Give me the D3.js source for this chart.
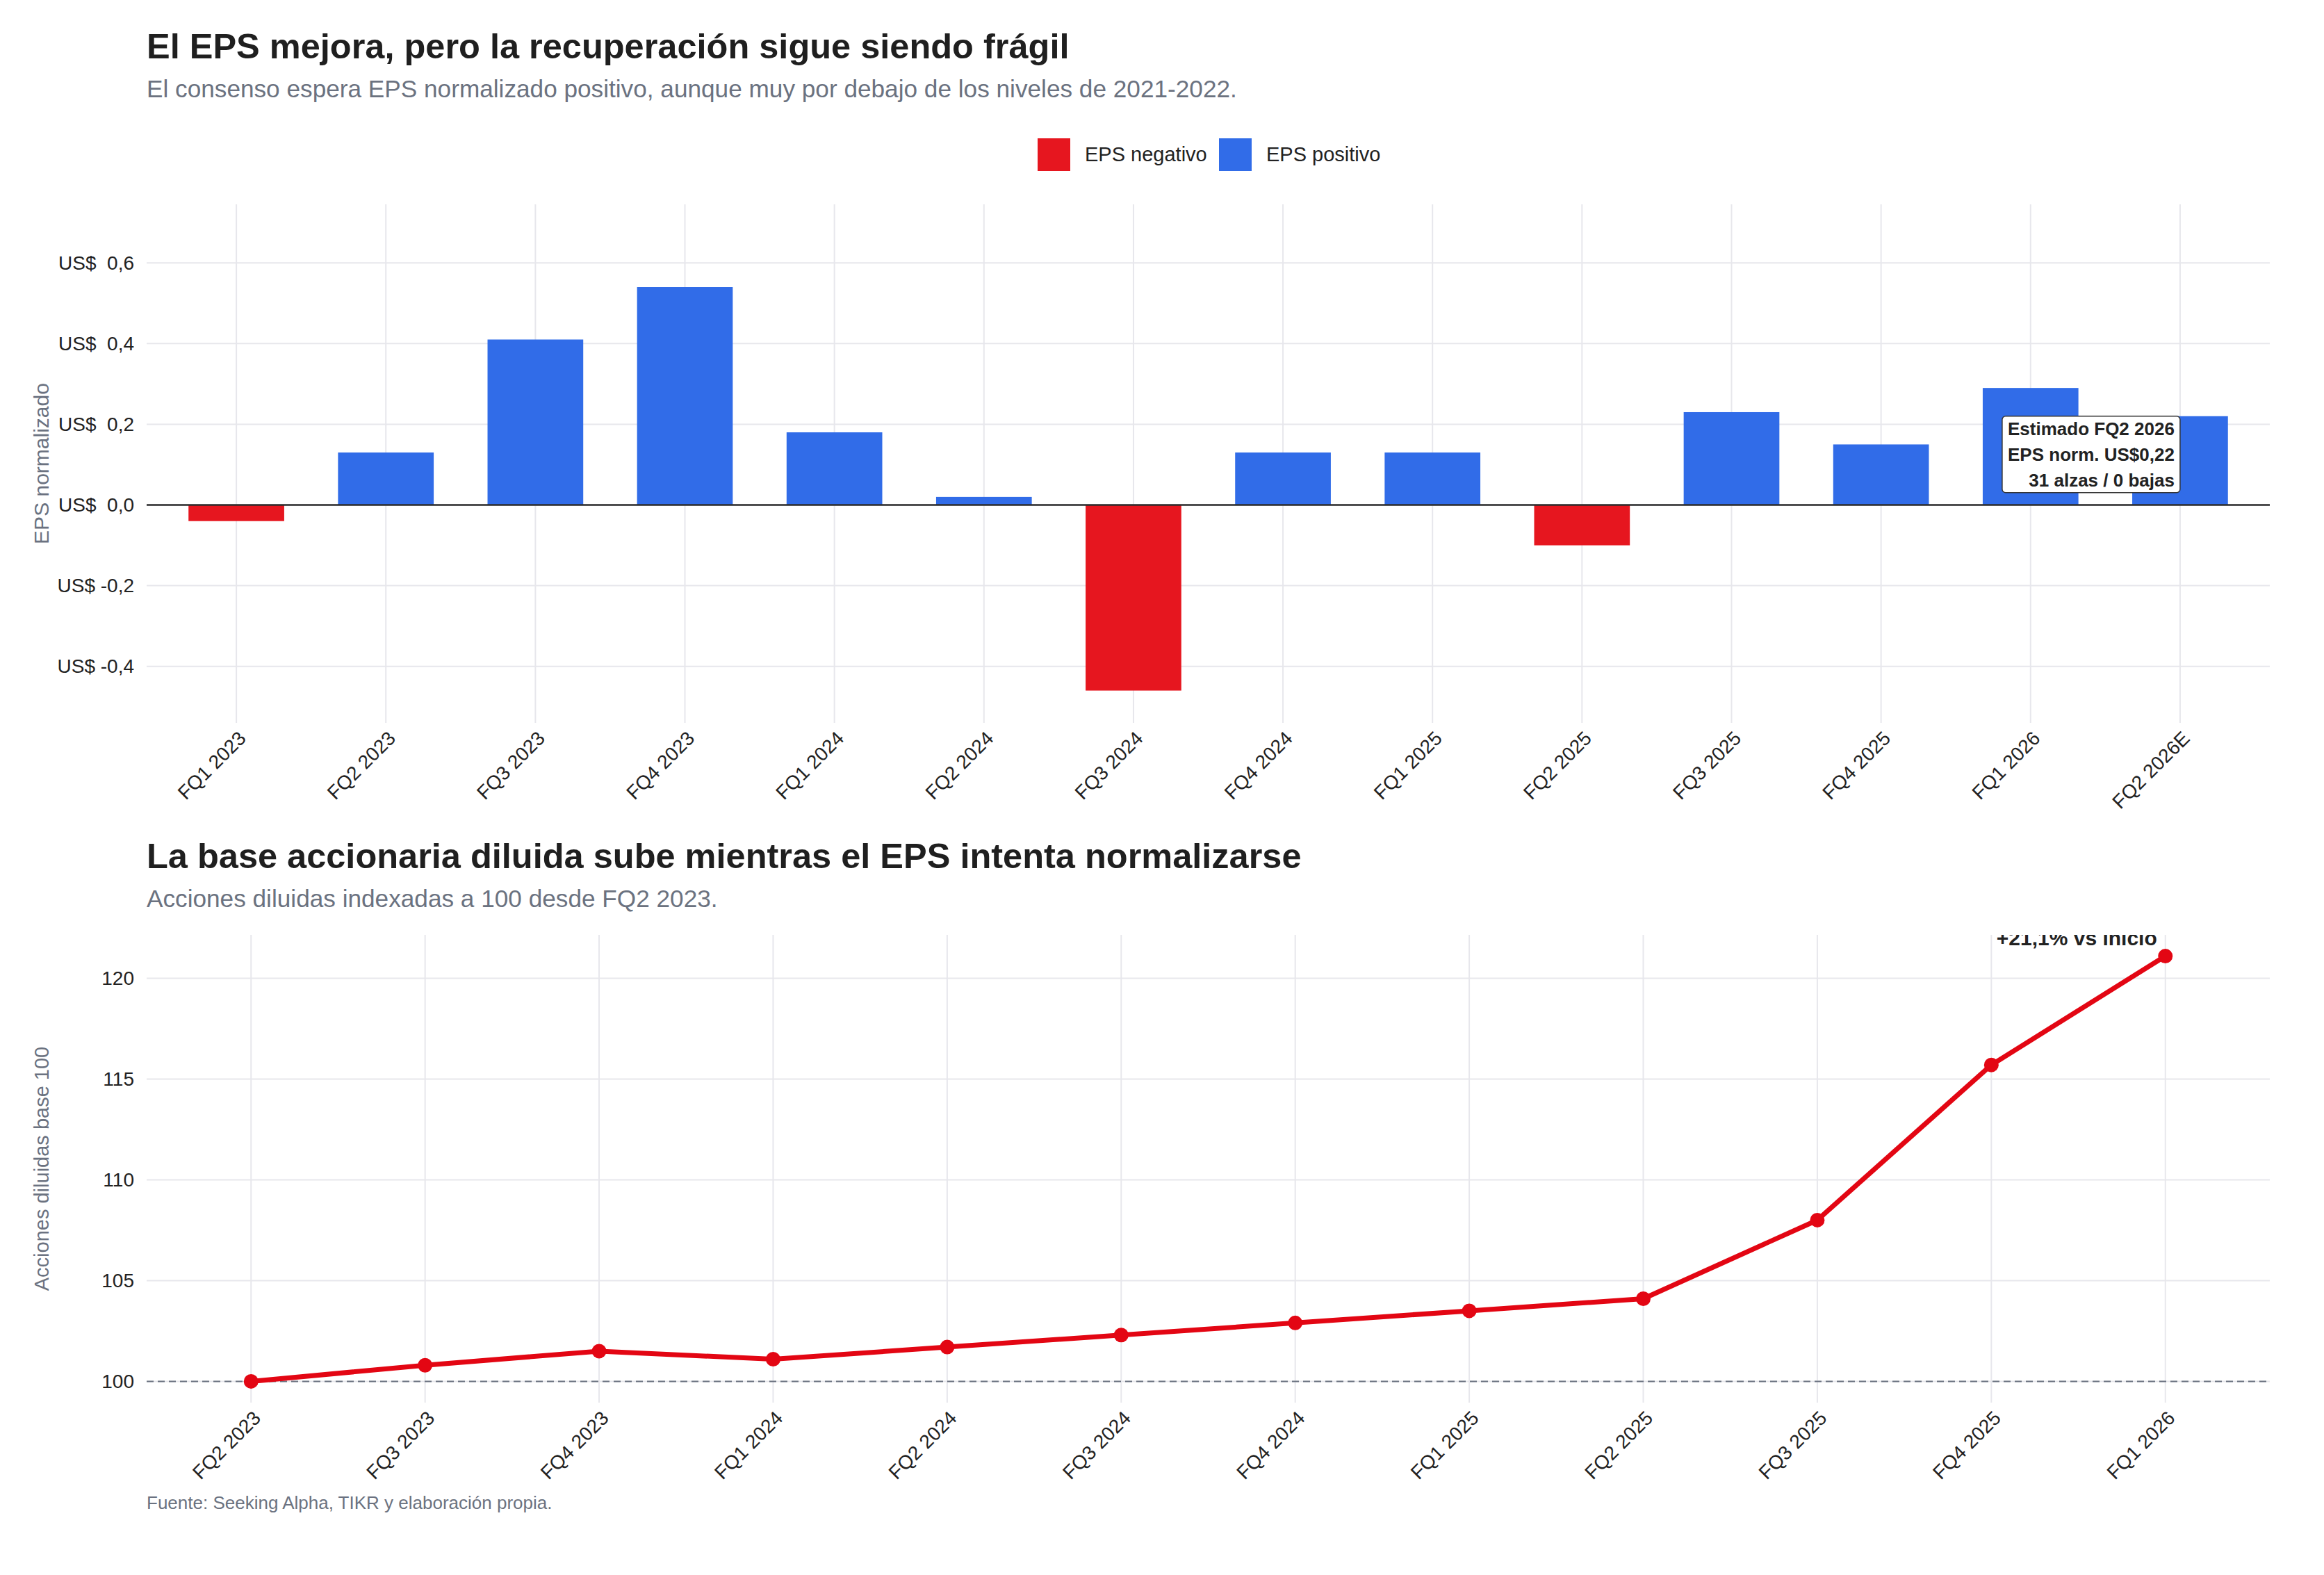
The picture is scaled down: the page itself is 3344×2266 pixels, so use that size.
<!DOCTYPE html>
<html>
<head>
<meta charset="utf-8">
<script src="https://cdn.jsdelivr.net/npm/d3@7"></script>
<style>
  body { margin: 0; background: #fff; }
  text { font-family: "Liberation Sans", Arial, sans-serif; }
</style>
</head>
<body>
<div class="graph"></div>
<script>
// EPS normalizado por trimestre
const epsQuarters = ["FQ1 2023", "FQ2 2023", "FQ3 2023", "FQ4 2023", "FQ1 2024", "FQ2 2024", "FQ3 2024",
  "FQ4 2024", "FQ1 2025", "FQ2 2025", "FQ3 2025", "FQ4 2025", "FQ1 2026", "FQ2 2026E"];
const epsValues = [-0.04, 0.13, 0.41, 0.54, 0.18, 0.02, -0.46, 0.13, 0.13, -0.10, 0.23, 0.15, 0.29, 0.22];
const epsTicks = [-0.4, -0.2, 0, 0.2, 0.4, 0.6];
const legendLabels = ["EPS negativo", "EPS positivo"];
const estimateLines = ["Estimado FQ2 2026", "EPS norm. US$0,22", "31 alzas / 0 bajas"];

// acciones diluidas, base 100
const shareQuarters = ["FQ2 2023", "FQ3 2023", "FQ4 2023", "FQ1 2024", "FQ2 2024", "FQ3 2024",
  "FQ4 2024", "FQ1 2025", "FQ2 2025", "FQ3 2025", "FQ4 2025", "FQ1 2026"];
const shareIndex = [100, 100.8, 101.5, 101.1, 101.7, 102.3, 102.9, 103.5, 104.1, 108.0, 115.7, 121.1];
const shareTicks = [100, 105, 110, 115, 120];

const W = 3344, H = 2266;
const left = 211, right = 3266;
const red = "#e6161f", blue = "#316ce8", lineRed = "#e30613";
const gridCol = "#e7e7ec", gray = "#6b7280", ink = "#222";

const loc = d3.formatLocale({decimal: ",", thousands: ".", grouping: [3], currency: ["US$", ""], minus: "-"});
const f1 = loc.format(".1f");

let svg = d3.select(".graph").append("svg")
    .attr("width", W)
    .attr("height", H);

// ---------- titles ----------
function titles(y, title, sub) {
    svg.append("text").attr("x", left).attr("y", y)
        .attr("font-size", 50.5).attr("font-weight", "bold").attr("fill", "#1f1f1f")
        .text(title);
    svg.append("text").attr("x", left).attr("y", y + 56)
        .attr("font-size", 35.2).attr("fill", gray)
        .text(sub);
}
titles(84, "El EPS mejora, pero la recuperación sigue siendo frágil",
    "El consenso espera EPS normalizado positivo, aunque muy por debajo de los niveles de 2021-2022.");
titles(1249, "La base accionaria diluida sube mientras el EPS intenta normalizarse",
    "Acciones diluidas indexadas a 100 desde FQ2 2023.");

// ---------- legend ----------
let legend = svg.append("g").attr("class", "legend");
let legX = [1493, 1754];
[red, blue].forEach(function (c, i) {
    legend.append("rect").attr("x", legX[i]).attr("y", 199).attr("width", 47).attr("height", 47).attr("fill", c);
    legend.append("text").attr("x", legX[i] + 68).attr("y", 232)
        .attr("font-size", 29).attr("fill", ink).text(legendLabels[i]);
});

// ---------- chart 1: bars ----------
let top1 = 294, bot1 = 1040;
let x1 = d3.scalePoint().domain(epsQuarters).range([left, right]).padding(0.6);
let y1 = d3.scaleLinear().domain([-0.54, 0.745]).range([bot1, top1]);
let barW = x1.step() * 0.64;

let g1 = svg.append("g");
g1.selectAll(".hgrid").data(epsTicks).enter().append("line")
    .attr("x1", left).attr("x2", right)
    .attr("y1", d => y1(d)).attr("y2", d => y1(d))
    .attr("stroke", gridCol).attr("stroke-width", 2);
g1.selectAll(".vgrid").data(epsQuarters).enter().append("line")
    .attr("x1", d => x1(d)).attr("x2", d => x1(d))
    .attr("y1", top1).attr("y2", bot1)
    .attr("stroke", gridCol).attr("stroke-width", 2);

g1.selectAll(".bar").data(epsQuarters).enter().append("rect")
    .attr("x", d => x1(d) - barW / 2)
    .attr("width", barW)
    .attr("y", (d, i) => y1(Math.max(0, epsValues[i])))
    .attr("height", (d, i) => Math.abs(y1(epsValues[i]) - y1(0)))
    .attr("fill", (d, i) => epsValues[i] < 0 ? red : blue);

g1.append("line").attr("x1", left).attr("x2", right)
    .attr("y1", y1(0)).attr("y2", y1(0))
    .attr("stroke", "#2b2b2b").attr("stroke-width", 2.5);

// y axis
let ax1 = g1.append("g").attr("transform", "translate(" + (left - 15) + ",0)")
    .call(d3.axisLeft(y1).tickValues(epsTicks).tickSize(0)
        .tickFormat(d => "US$ " + (d < 0 ? "" : " ") + f1(d)));
ax1.select(".domain").remove();
ax1.selectAll("text").attr("font-size", 28).attr("fill", ink)
    .attr("font-family", "Liberation Sans, Arial, sans-serif")
    .style("white-space", "pre");

// x axis
let xa1 = g1.append("g").attr("transform", "translate(0," + bot1 + ")")
    .call(d3.axisBottom(x1).tickSize(0));
xa1.select(".domain").remove();
xa1.selectAll("text").attr("font-size", 28).attr("fill", ink)
    .attr("font-family", "Liberation Sans, Arial, sans-serif")
    .attr("text-anchor", "end").attr("x", 0).attr("y", 0).attr("dy", "0.35em")
    .attr("transform", "translate(8,17) rotate(-45)");

svg.append("text")
    .attr("transform", "translate(70," + (top1 + bot1) / 2 + ") rotate(-90)")
    .attr("text-anchor", "middle").attr("font-size", 30).attr("fill", gray)
    .text("EPS normalizado");

// estimate label
let lastQ = epsQuarters[epsQuarters.length - 1];
let lastV = epsValues[epsValues.length - 1];
let bx = x1(lastQ), by = y1(lastV);
let box = g1.append("g");
box.append("rect").attr("x", bx - 256).attr("y", by).attr("width", 256).attr("height", 110)
    .attr("rx", 5).attr("fill", "#fff").attr("stroke", "#333").attr("stroke-width", 1.5);
box.selectAll("text").data(estimateLines).enter().append("text")
    .attr("x", bx - 8).attr("y", (d, i) => by + 27 + i * 37)
    .attr("text-anchor", "end").attr("font-size", 26).attr("font-weight", "bold").attr("fill", ink)
    .text(d => d);

// ---------- chart 2: line ----------
let top2 = 1345, bot2 = 2018;
let x2 = d3.scalePoint().domain(shareQuarters).range([left, right]).padding(0.6);
let y2 = d3.scaleLinear().domain([98.945, 122.155]).range([bot2, top2]);

svg.append("clipPath").attr("id", "clip2").append("rect")
    .attr("x", left).attr("y", top2).attr("width", right - left).attr("height", bot2 - top2);

let g2 = svg.append("g");
g2.selectAll(".hgrid").data(shareTicks).enter().append("line")
    .attr("x1", left).attr("x2", right)
    .attr("y1", d => y2(d)).attr("y2", d => y2(d))
    .attr("stroke", gridCol).attr("stroke-width", 2);
g2.selectAll(".vgrid").data(shareQuarters).enter().append("line")
    .attr("x1", d => x2(d)).attr("x2", d => x2(d))
    .attr("y1", top2).attr("y2", bot2)
    .attr("stroke", gridCol).attr("stroke-width", 2);

g2.append("line").attr("x1", left).attr("x2", right)
    .attr("y1", y2(100)).attr("y2", y2(100))
    .attr("stroke", gray).attr("stroke-width", 2).attr("stroke-dasharray", "10,6");

let line = d3.line()
    .x(function (d, i) { return x2(shareQuarters[i]); })
    .y(function (d) { return y2(d); });
g2.append("path").datum(shareIndex)
    .attr("d", line).attr("fill", "none")
    .attr("stroke", lineRed).attr("stroke-width", 7).attr("stroke-linejoin", "round");
g2.selectAll(".pt").data(shareIndex).enter().append("circle")
    .attr("cx", (d, i) => x2(shareQuarters[i])).attr("cy", d => y2(d))
    .attr("r", 10.5).attr("fill", lineRed);

let lastS = shareIndex[shareIndex.length - 1];
g2.append("text").attr("clip-path", "url(#clip2)")
    .attr("x", x2(shareQuarters[shareQuarters.length - 1]) - 12)
    .attr("y", y2(lastS) - 16)
    .attr("text-anchor", "end").attr("font-size", 30).attr("font-weight", "bold").attr("fill", ink)
    .text("+" + f1(lastS - 100) + "% vs inicio");

let ax2 = g2.append("g").attr("transform", "translate(" + (left - 15) + ",0)")
    .call(d3.axisLeft(y2).tickValues(shareTicks).tickSize(0).tickFormat(d3.format("d")));
ax2.select(".domain").remove();
ax2.selectAll("text").attr("font-size", 28).attr("fill", ink)
    .attr("font-family", "Liberation Sans, Arial, sans-serif");

let xa2 = g2.append("g").attr("transform", "translate(0," + bot2 + ")")
    .call(d3.axisBottom(x2).tickSize(0));
xa2.select(".domain").remove();
xa2.selectAll("text").attr("font-size", 28).attr("fill", ink)
    .attr("font-family", "Liberation Sans, Arial, sans-serif")
    .attr("text-anchor", "end").attr("x", 0).attr("y", 0).attr("dy", "0.35em")
    .attr("transform", "translate(8,17) rotate(-45)");

svg.append("text")
    .attr("transform", "translate(70," + (top2 + bot2) / 2 + ") rotate(-90)")
    .attr("text-anchor", "middle").attr("font-size", 29).attr("fill", gray)
    .text("Acciones diluidas base 100");

// footer
svg.append("text").attr("x", left).attr("y", 2171)
    .attr("font-size", 26).attr("fill", gray)
    .text("Fuente: Seeking Alpha, TIKR y elaboración propia.");
</script>
</body>
</html>
